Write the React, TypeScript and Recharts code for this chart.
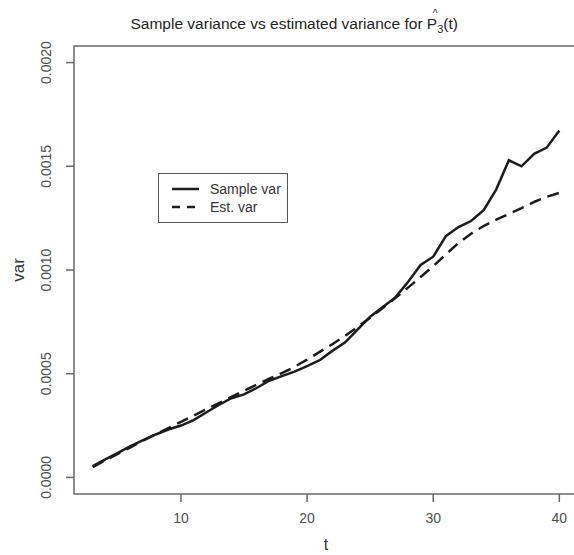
import { Legend, Line, LineChart, ReferenceArea, XAxis, YAxis } from 'recharts';

const tValues = [3, 4, 5, 6, 7, 8, 9, 10, 11, 12, 13, 14, 15, 16, 17, 18, 19, 20, 21, 22, 23, 24, 25, 26, 27, 28, 29, 30, 31, 32, 33, 34, 35, 36, 37, 38, 39, 40];

const sampleVar = [
  0.000054, 0.000087, 0.000118, 0.000151, 0.00018, 0.000207, 0.000231, 0.00025, 0.000276, 0.000313,
  0.000349, 0.000382, 0.0004, 0.000431, 0.000466, 0.000488, 0.00051, 0.000537, 0.000565, 0.00061,
  0.00065, 0.000712, 0.000775, 0.000822, 0.000868, 0.000942, 0.001024, 0.001064, 0.001163, 0.001207,
  0.001236, 0.001288, 0.001389, 0.001529, 0.0015, 0.00156, 0.00159, 0.001673,
];

const estVar = [
  0.00005, 0.000082, 0.000113, 0.000145, 0.000177, 0.000208, 0.000238, 0.000268, 0.000298, 0.000328,
  0.000358, 0.000388, 0.000418, 0.000447, 0.000476, 0.000503, 0.000533, 0.000568, 0.000605, 0.000642,
  0.000682, 0.000725, 0.00077, 0.000817, 0.000865, 0.000915, 0.000966, 0.001018, 0.001075, 0.00113,
  0.001175, 0.001212, 0.001243, 0.00127, 0.001298, 0.001328, 0.001353, 0.001372,
];

const xTicks = [10, 20, 30, 40];
const yTicks = [0, 0.0005, 0.001, 0.0015, 0.002];

const seriesNames = ['Sample var', 'Est. var'];

const chartData = tValues.map((t, i) => ({ t, sample: sampleVar[i], est: estVar[i] }));

const FONT = '"Liberation Sans", Arial, sans-serif';
const X_DOMAIN = [1.52, 41.48];
const Y_DOMAIN = [-0.00008, 0.00208];

const YTick = ({ y, payload }: { y?: number; payload?: { value: number } }) => {
  if (y == null || !payload) return null;
  return (
    <text
      x={51}
      y={y}
      transform={`rotate(-90, 51, ${y})`}
      textAnchor="middle"
      fontSize={14}
      fontFamily={FONT}
      fill="#4d4d4d"
    >
      {payload.value.toFixed(4)}
    </text>
  );
};

const LegendBox = () => (
  <div
    style={{
      width: 130,
      height: 50,
      boxSizing: 'border-box',
      border: '1.5px solid #555',
      background: '#fff',
    }}
  >
    <svg width={127} height={47}>
      <line x1={13} x2={40} y1={15} y2={15} stroke="#1c1c1c" strokeWidth={2.5} />
      <line x1={13} x2={37} y1={33} y2={33} stroke="#1c1c1c" strokeWidth={2.5} strokeDasharray="8 7" />
      <text x={51} y={20} fontSize={14} fontFamily={FONT} fill="#333">
        {seriesNames[0]}
      </text>
      <text x={51} y={38} fontSize={14} fontFamily={FONT} fill="#333">
        {seriesNames[1]}
      </text>
    </svg>
  </div>
);

export default function App() {
  return (
    <div
      style={{
        position: 'absolute',
        left: 0,
        top: 0,
        width: 574,
        height: 555,
        overflow: 'hidden',
        background: '#fff',
      }}
    >
      <LineChart
        width={580}
        height={555}
        data={chartData}
        margin={{ top: 46, right: 2, bottom: 0, left: 0 }}
      >
        <XAxis
          dataKey="t"
          type="number"
          domain={X_DOMAIN}
          allowDataOverflow
          ticks={xTicks}
          height={61}
          axisLine={false}
          tickSize={8}
          tickMargin={11}
          tickLine={{ stroke: '#666', strokeWidth: 1.5 }}
          tick={{ fontSize: 14, fontFamily: FONT, fill: '#4d4d4d' }}
        />
        <YAxis
          type="number"
          domain={Y_DOMAIN}
          allowDataOverflow
          ticks={yTicks}
          width={74}
          axisLine={false}
          tickSize={8}
          tickLine={{ stroke: '#666', strokeWidth: 1.5 }}
          tick={<YTick />}
        />
        <ReferenceArea
          x1={X_DOMAIN[0]}
          x2={X_DOMAIN[1]}
          y1={Y_DOMAIN[0]}
          y2={Y_DOMAIN[1]}
          fill="none"
          stroke="#6a6a6a"
          strokeWidth={1.5}
          ifOverflow="visible"
        />
        <Legend
          layout="horizontal"
          verticalAlign="middle"
          align="center"
          content={<LegendBox />}
          wrapperStyle={{ left: 158, top: 173, width: 130, height: 50 }}
        />
        <Line
          type="linear"
          dataKey="sample"
          name={seriesNames[0]}
          stroke="#1c1c1c"
          strokeWidth={2.5}
          dot={false}
          isAnimationActive={false}
        />
        <Line
          type="linear"
          dataKey="est"
          name={seriesNames[1]}
          stroke="#1c1c1c"
          strokeWidth={2.5}
          strokeDasharray="12 7"
          dot={false}
          isAnimationActive={false}
        />
      </LineChart>
      <svg
        width={574}
        height={555}
        style={{ position: 'absolute', left: 0, top: 0, pointerEvents: 'none' }}
      >
        <text x={130.5} y={29} fontSize={15.5} fontFamily={FONT} fill="#222">
          Sample variance vs estimated variance for P
          <tspan dy={4} fontSize={11}>
            3
          </tspan>
          <tspan dy={-4}>(t)</tspan>
        </text>
        <text x={435} y={17} textAnchor="middle" fontSize={10} fontFamily={FONT} fill="#222">
          ^
        </text>
        <text x={326} y={550} textAnchor="middle" fontSize={16} fontFamily={FONT} fill="#333">
          t
        </text>
        <text
          x={24}
          y={270}
          transform="rotate(-90, 24, 270)"
          textAnchor="middle"
          fontSize={17}
          fontFamily={FONT}
          fill="#333"
        >
          var
        </text>
      </svg>
    </div>
  );
}
